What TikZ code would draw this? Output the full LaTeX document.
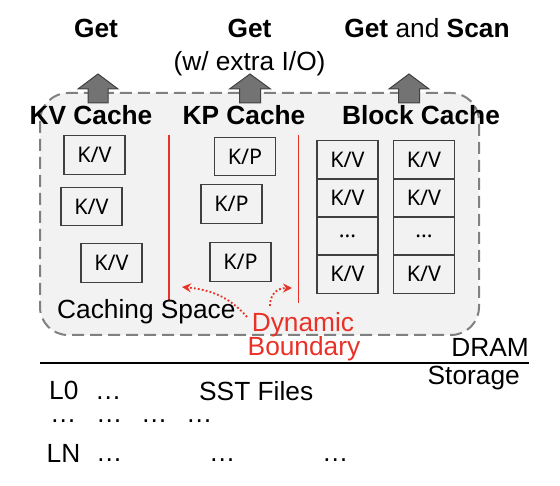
\documentclass[tikz,border=0pt]{standalone}
\usepackage{fontspec}
\setmainfont{Liberation Sans}
\newfontfamily\boxfont{Noto Sans}
\usetikzlibrary{arrows.meta}
\definecolor{dynred}{RGB}{232,50,40}
\definecolor{cachefill}{RGB}{242,242,242}
\definecolor{dashgray}{RGB}{128,128,128}
\definecolor{arrowgray}{RGB}{115,115,115}
\definecolor{boxline}{RGB}{64,64,64}
\begin{document}
\begin{tikzpicture}[x=1pt,y=-1pt,
  lbl/.style={font=\fontsize{26.3}{30}\selectfont, inner sep=0pt, anchor=base},
  blbl/.style={font=\fontsize{26.3}{30}\selectfont\bfseries, inner sep=0pt, anchor=base},
  redlbl/.style={lbl, text=dynred},
  cellbox/.style={draw=boxline, line width=1.3pt, minimum width=61pt, minimum height=38.5pt, inner sep=0pt,
    font=\boxfont\fontsize{21.5}{24}\selectfont},
  cachearea/.style={draw=dashgray, line width=2pt, dash pattern=on 12pt off 6pt, fill=cachefill, rounded corners=28pt},
  uparrow/.style={draw=boxline, line width=1pt, fill=arrowgray},
  boundary/.style={draw=dynred, line width=1.3pt},
  dyndot/.style={draw=dynred, line width=1.8pt, dash pattern=on 1.8pt off 2.2pt, -{Stealth[length=9pt,width=9pt,inset=3pt]}},
  ell/.style={lbl, anchor=base west}
]
\useasboundingbox (0,0) rectangle (560,486);

% caching area
\draw[cachearea] (40,93) rectangle (479,335);

% up arrows
\draw[uparrow] (98,74) -- (118,89) -- (108,89) -- (108,103) -- (88,103) -- (88,89) -- (78,89) -- cycle;
\draw[uparrow] (250,74) -- (270.5,89) -- (260.5,89) -- (260.5,103) -- (239.5,103) -- (239.5,89) -- (229.5,89) -- cycle;
\draw[uparrow] (409,74) -- (429,89) -- (419.5,89) -- (419.5,103) -- (398.5,103) -- (398.5,89) -- (389,89) -- cycle;

% operation labels
\node[blbl] (get1) at (96,38) {Get};
\node[blbl] (get2) at (249.5,38) {Get};
\node[lbl] (extra) at (249.5,71) {(w/ extra I/O)};
\node[lbl] (getscan) at (427,38) {\textbf{Get} and \textbf{Scan}};

% cache titles
\node[blbl] (kvc) at (91,125) {KV Cache};
\node[blbl] (kpc) at (244,125) {KP Cache};
\node[blbl] (bc) at (421,125) {Block Cache};

% boundaries
\coordinate (b1t) at (169,135); \coordinate (b1b) at (169,301);
\coordinate (b2t) at (298.5,135); \coordinate (b2b) at (298.5,303);
\draw[boundary] (b1t) -- (b1b);
\draw[boundary] (b2t) -- (b2b);

% KV cache entries
\node[cellbox] (kv1) at (94.5,155) {K/V};
\node[cellbox] (kv2) at (91.5,206.5) {K/V};
\node[cellbox] (kv3) at (111.5,263) {K/V};

% KP cache entries
\node[cellbox] (kp1) at (245,156.5) {K/P};
\node[cellbox] (kp2) at (231.5,204) {K/P};
\node[cellbox] (kp3) at (240.5,262) {K/P};

% block cache
\node[cellbox] (ba1) at (347.5,160) {K/V};
\node[cellbox] (ba2) at (347.5,198) {K/V};
\node[cellbox] (ba3) at (347.5,236) {...};
\node[cellbox] (ba4) at (347.5,274) {K/V};
\node[cellbox] (bb1) at (424,160) {K/V};
\node[cellbox] (bb2) at (424,198) {K/V};
\node[cellbox] (bb3) at (424,236) {...};
\node[cellbox] (bb4) at (424,274) {K/V};

% caching space label
\node[lbl, anchor=base west] (cspace) at (57,319) {Caching Space};

% dynamic boundary
\node[redlbl] (dyn) at (303,332) {Dynamic};
\node[redlbl] (bnd) at (304,356) {Boundary};
\coordinate (a1s) at (247,317);
\coordinate (a1e) at (182,287);
\coordinate (a2s) at (270,306);
\coordinate (a2e) at (292,288);
\draw[dyndot] (a1s) .. controls (232,300) and (215,290) .. (a1e);
\draw[dyndot] (a2s) .. controls (270,294) and (277,288) .. (a2e);

% DRAM / Storage
\node[lbl, anchor=base east] (dram) at (529,357) {DRAM};
\coordinate (sepl) at (40,363);
\coordinate (sepr) at (529,363);
\draw[line width=2pt] (sepl) -- (sepr);
\node[lbl, anchor=base east] (stor) at (520,385) {Storage};

% storage contents
\node[ell] (l0) at (49,400) {L0};
\node[ell] (l0d) at (95,400) {…};
\node[ell] (sst) at (199,401) {SST Files};
\node[ell] (r1) at (50,423) {…};
\node[ell] (r2) at (96,423) {…};
\node[ell] (r3) at (141,423) {…};
\node[ell] (r4) at (186,423) {…};
\node[ell] (ln) at (46.5,463) {LN};
\node[ell] (lnd1) at (96,461) {…};
\node[ell] (lnd2) at (209,461) {…};
\node[ell] (lnd3) at (322,461) {…};
\end{tikzpicture}
\end{document}
